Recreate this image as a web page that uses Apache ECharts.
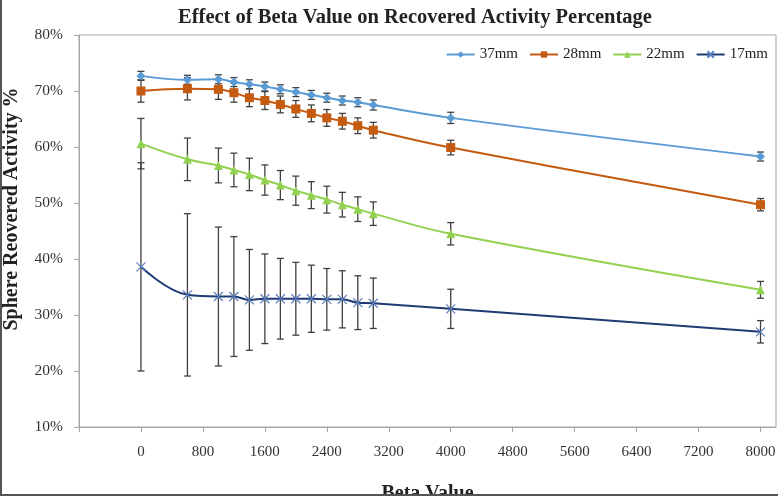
<!DOCTYPE html>
<html>
<head>
<meta charset="utf-8">
<script src="https://cdn.jsdelivr.net/npm/echarts@6/dist/echarts.min.js"></script>
<style>
  html, body { margin: 0; padding: 0; background: #fff; }
  #chart { width: 778px; height: 496px; }
</style>
</head>
<body>
<div id="chart"></div>
<script>
// beta values (x) shared by every series
var betaValues = [0, 600, 1000, 1200, 1400, 1600, 1800, 2000, 2200, 2400, 2600, 2800, 3000, 4000, 8000];

// mean recovered activity (%) per sphere
var mean37 = [72.7, 72.0, 72.1, 71.6, 71.2, 70.8, 70.3, 69.8, 69.3, 68.8, 68.3, 68.0, 67.5, 65.2, 58.3];
var mean28 = [70.0, 70.4, 70.3, 69.7, 68.8, 68.3, 67.6, 66.8, 66.0, 65.2, 64.6, 63.8, 63.0, 59.9, 49.7];
var mean22 = [60.6, 57.8, 56.7, 55.9, 55.1, 54.1, 53.2, 52.2, 51.4, 50.6, 49.7, 48.9, 48.1, 44.5, 34.5];
var mean17 = [38.6, 33.6, 33.3, 33.3, 32.7, 32.9, 32.9, 32.9, 32.9, 32.8, 32.8, 32.2, 32.1, 31.1, 27.0];

// error bar half-widths (%)
var err37 = [0.8, 0.8, 0.8, 0.8, 0.8, 0.8, 0.8, 0.8, 0.8, 0.8, 0.8, 0.8, 0.9, 1.0, 0.8];
var err28 = [2.0, 2.0, 1.8, 1.7, 1.6, 1.6, 1.5, 1.5, 1.5, 1.5, 1.4, 1.4, 1.4, 1.3, 1.1];
var err22 = [4.5, 3.8, 3.1, 3.0, 2.9, 2.7, 2.6, 2.6, 2.4, 2.4, 2.2, 2.2, 2.1, 2.0, 1.5];
var err17 = [18.6, 14.5, 12.4, 10.7, 9.0, 8.0, 7.2, 6.5, 6.0, 5.5, 5.1, 4.8, 4.5, 3.5, 2.0];

var seriesNames = ['37mm', '28mm', '22mm', '17mm'];
var yTicks = [10, 20, 30, 40, 50, 60, 70, 80];

var FONT = 'Liberation Serif';

function pairs(vals) {
  return betaValues.map(function (x, i) { return [x, vals[i]]; });
}

// [x, low, high] for the custom error-bar series
function errRows(vals, errs) {
  return betaValues.map(function (x, i) { return [x, vals[i] - errs[i], vals[i] + errs[i]]; });
}

function renderErrBar(params, api) {
  var top = api.coord([api.value(0), api.value(2)]);
  var bot = api.coord([api.value(0), api.value(1)]);
  var half = 3.5;
  var style = { stroke: '#404040', lineWidth: 1.3 };
  return {
    type: 'group',
    children: [
      { type: 'line', shape: { x1: top[0], y1: top[1], x2: bot[0], y2: bot[1] }, style: style },
      { type: 'line', shape: { x1: top[0] - half, y1: top[1], x2: top[0] + half, y2: top[1] }, style: style },
      { type: 'line', shape: { x1: bot[0] - half, y1: bot[1], x2: bot[0] + half, y2: bot[1] }, style: style }
    ]
  };
}

function errSeries(vals, errs) {
  return {
    type: 'custom',
    renderItem: renderErrBar,
    data: errRows(vals, errs),
    encode: { x: 0, y: [1, 2] },
    silent: true,
    z: 1
  };
}

var chart = echarts.init(document.getElementById('chart'));

var option = {
  backgroundColor: '#fff',
  animation: false,
  title: {
    text: 'Effect of Beta Value on Recovered Activity Percentage',
    left: 410,
    top: 2,
    textAlign: 'center',
    textStyle: { fontFamily: FONT, fontSize: 20.5, fontWeight: 'bold', color: '#222' }
  },
  legend: {
    data: seriesNames,
    right: 5,
    top: 42,
    itemWidth: 28,
    itemHeight: 8,
    itemGap: 11,
    textStyle: { fontFamily: FONT, fontSize: 15, color: '#222' }
  },
  grid: {
    left: 79, top: 35, right: 2, bottom: 69,
    outerBoundsMode: 'none',
    containLabel: false,
    show: true, borderColor: '#A6A6A6', borderWidth: 1, backgroundColor: '#fff'
  },
  xAxis: {
    type: 'value',
    min: -800,
    max: 8200,
    interval: 800,
    name: 'Beta Value',
    nameLocation: 'middle',
    nameGap: 57,
    nameTextStyle: { fontFamily: FONT, fontSize: 20, fontWeight: 'bold', color: '#222' },
    axisLine: { show: true, onZero: false, lineStyle: { color: '#A6A6A6' } },
    axisTick: { show: true, length: 5, lineStyle: { color: '#A6A6A6' } },
    axisLabel: {
      margin: 18,
      fontFamily: FONT, fontSize: 15, color: '#333',
      showMaxLabel: false,
      formatter: function (v) { return (v < 0 || v > 8000) ? '' : String(v); }
    },
    splitLine: { show: false }
  },
  yAxis: {
    type: 'value',
    min: yTicks[0],
    max: yTicks[yTicks.length - 1],
    interval: 10,
    name: 'Sphere Reovered Activity %',
    nameLocation: 'middle',
    nameGap: 57,
    nameTextStyle: { fontFamily: FONT, fontSize: 20, fontWeight: 'bold', color: '#222', padding: [0, 0, 0, 44] },
    axisLine: { show: true, onZero: false, lineStyle: { color: '#A6A6A6' } },
    axisTick: { show: true, length: 5, lineStyle: { color: '#A6A6A6' } },
    axisLabel: { margin: 16, fontFamily: FONT, fontSize: 15.5, color: '#333', formatter: '{value}%' },
    splitLine: { show: false }
  },
  graphic: [
    { type: 'line', shape: { x1: 1, y1: 0, x2: 1, y2: 496 }, style: { stroke: '#555', lineWidth: 2 }, z: 100 },
    { type: 'line', shape: { x1: 0, y1: 495, x2: 778, y2: 495 }, style: { stroke: '#555', lineWidth: 2 }, z: 100 }
  ],
  series: [
    errSeries(mean37, err37),
    errSeries(mean28, err28),
    errSeries(mean22, err22),
    errSeries(mean17, err17),
    {
      name: '37mm', type: 'line', data: pairs(mean37), smooth: 0.4, z: 3,
      symbol: 'diamond', symbolSize: 9,
      lineStyle: { color: '#5B9BD5', width: 2 },
      itemStyle: { color: '#5B9BD5' }
    },
    {
      name: '28mm', type: 'line', data: pairs(mean28), smooth: 0.4, z: 3,
      symbol: 'rect', symbolSize: 9,
      lineStyle: { color: '#C55A11', width: 2 },
      itemStyle: { color: '#C55A11' }
    },
    {
      name: '22mm', type: 'line', data: pairs(mean22), smooth: 0.4, z: 3,
      symbol: 'triangle', symbolSize: 9,
      lineStyle: { color: '#92D050', width: 2 },
      itemStyle: { color: '#92D050' }
    },
    {
      name: '17mm', type: 'line', data: pairs(mean17), smooth: 0.4, z: 3,
      symbol: 'path://M0,0L10,10M10,0L0,10', symbolSize: 9,
      lineStyle: { color: '#1F3B73', width: 2 },
      itemStyle: { color: 'none', borderColor: '#5A7FBF', borderWidth: 1.2 }
    }
  ]
};

chart.setOption(option);
</script>
</body>
</html>
